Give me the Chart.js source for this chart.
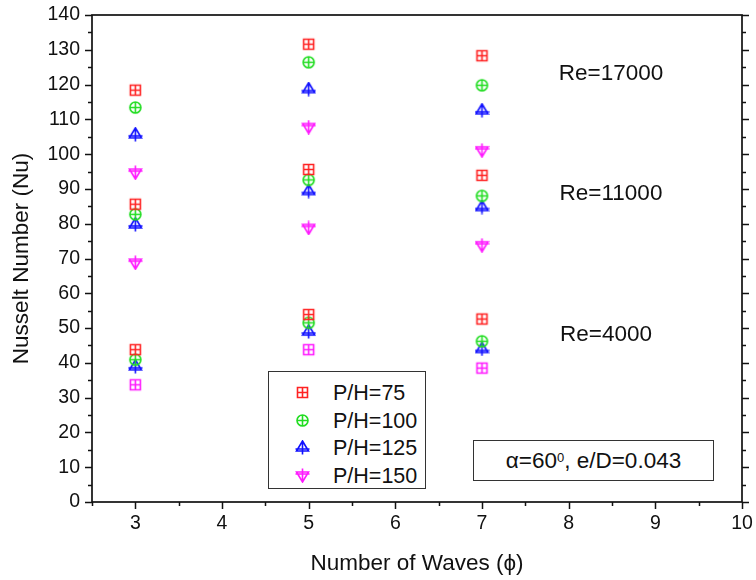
<!DOCTYPE html>
<html>
<head>
<meta charset="utf-8">
<script src="https://cdn.jsdelivr.net/npm/chart.js@4.4.1/dist/chart.umd.min.js"></script>
<style>
  html, body { margin: 0; padding: 0; background: #fff; }
  #wrap { position: relative; width: 756px; height: 580px; font-family: "Liberation Sans", Arial, sans-serif; color: #111; }
  #c { position: absolute; left: 0; top: 0; }
  .box { position: absolute; background: #fff; border: 1.5px solid #333; box-sizing: border-box; }
  .row { position: absolute; left: 0; height: 26px; line-height: 26px; font-size: 21.5px; }
  .row canvas { position: absolute; left: 26px; top: 5px; }
  .row span { position: absolute; left: 64px; white-space: nowrap; }
  .re { position: absolute; font-size: 22.5px; white-space: nowrap; transform: translate(-50%, -50%); }
  #note { font-size: 22.5px; display: flex; align-items: center; justify-content: center; }
  #note sup { font-size: 13px; vertical-align: top; position: relative; top: -3px; }
</style>
</head>
<body>
<div id="wrap">
  <canvas id="c" width="756" height="580"></canvas>
  <div class="re" style="left:611px; top:73px;">Re=17000</div>
  <div class="re" style="left:611px; top:193px;">Re=11000</div>
  <div class="re" style="left:606px; top:334px;">Re=4000</div>
  <div class="box" id="legend" style="left:268px; top:371px; width:158px; height:118px;"></div>
  <div class="box" id="note" style="left:473px; top:440px; width:241px; height:41px;">α=60<sup>0</sup>, e/D=0.043</div>
</div>
<script>
// ---- data ----
const waves = [3, 5, 7];
const xTickValues = [3, 4, 5, 6, 7, 8, 9, 10];
const yTickValues = [0, 10, 20, 30, 40, 50, 60, 70, 80, 90, 100, 110, 120, 130, 140];
const seriesLabels = ['P/H=75', 'P/H=100', 'P/H=125', 'P/H=150'];
const reGroups = ['Re=4000', 'Re=11000', 'Re=17000'];

// Nusselt numbers at waves 3, 5, 7
const ph75_re4000  = [43.8, 53.9, 52.6];
const ph75_re11000 = [85.6, 95.6, 93.9];
const ph75_re17000 = [118.4, 131.6, 128.3];

const ph100_re4000  = [40.9, 51.5, 46.2];
const ph100_re11000 = [82.7, 92.6, 88.0];
const ph100_re17000 = [113.4, 126.4, 119.8];

const ph125_re4000  = [39.0, 49.0, 44.0];
const ph125_re11000 = [79.8, 89.4, 84.8];
const ph125_re17000 = [105.7, 118.7, 112.6];

const ph150_re4000  = [33.7, 43.8, 38.5];
const ph150_re11000 = [68.8, 78.8, 73.8];
const ph150_re17000 = [94.7, 107.8, 101.1];

const seriesData = [
  [ph75_re4000, ph75_re11000, ph75_re17000],
  [ph100_re4000, ph100_re11000, ph100_re17000],
  [ph125_re4000, ph125_re11000, ph125_re17000],
  [ph150_re4000, ph150_re11000, ph150_re17000]
];

// ---- styles ----
const colors = ['#ff2222', '#22dd22', '#1010ff', '#ff1aff'];
const shapes = ['square', 'circle', 'triUp', 'triDown'];

function makeMarker(shape, color) {
  const S = 15, c = S / 2;
  const cv = document.createElement('canvas');
  cv.width = S; cv.height = S;
  const g = cv.getContext('2d');
  g.strokeStyle = color; g.lineWidth = 1.6;
  g.beginPath();
  if (shape === 'square') {
    g.rect(2.5, 2.5, 10, 10);
    g.moveTo(c, 2.5); g.lineTo(c, 12.5);
    g.moveTo(2.5, c); g.lineTo(12.5, c);
  } else if (shape === 'circle') {
    g.arc(c, c, 5.5, 0, Math.PI * 2);
    g.moveTo(c, 2); g.lineTo(c, 13);
    g.moveTo(2, c); g.lineTo(13, c);
  } else if (shape === 'triUp') {
    g.moveTo(c, 1); g.lineTo(13.5, 11); g.lineTo(1.5, 11); g.closePath();
    g.moveTo(c, 1); g.lineTo(c, 14.5);
    g.moveTo(0.5, 9); g.lineTo(14.5, 9);
  } else {
    g.moveTo(c, 14); g.lineTo(13.5, 4); g.lineTo(1.5, 4); g.closePath();
    g.moveTo(c, 0.5); g.lineTo(c, 14);
    g.moveTo(0.5, 6); g.lineTo(14.5, 6);
  }
  g.stroke();
  return cv;
}

const markers = shapes.map((s, i) => makeMarker(s, colors[i]));
const lowReSquare150 = makeMarker('square', colors[3]);

const datasets = seriesLabels.map((label, si) => {
  const pts = [];
  seriesData[si].forEach((arr, gi) => {
    waves.forEach((w, wi) => pts.push({ x: w, y: arr[wi], re: reGroups[gi] }));
  });
  return {
    label,
    data: pts,
    showLine: false,
    pointRadius: 6,
    pointStyle: (ctx) => {
      const raw = ctx.raw;
      if (si === 3 && raw && raw.re === 'Re=4000') return lowReSquare150;
      return markers[si];
    }
  };
});

// ---- HTML legend ----
const legendEl = document.getElementById('legend');
seriesLabels.forEach((label, i) => {
  const row = document.createElement('div');
  row.className = 'row';
  row.style.top = (8 + i * 27.5) + 'px';
  row.style.width = '100%';
  const m = makeMarker(shapes[i], colors[i]);
  row.appendChild(m);
  const sp = document.createElement('span');
  sp.textContent = label;
  row.appendChild(sp);
  legendEl.appendChild(row);
});

// ---- frame and ticks plugin ----
const framePlugin = {
  id: 'frame',
  afterDraw(chart) {
    const { ctx, chartArea: { left, right, top, bottom }, scales: { x, y } } = chart;
    ctx.save();
    ctx.strokeStyle = '#111';
    ctx.lineWidth = 1.7;
    ctx.strokeRect(left, top, right - left, bottom - top);
    ctx.lineWidth = 1.5;
    ctx.beginPath();
    for (let v = x.min; v <= x.max + 1e-9; v += 0.5) {
      const px = Math.round(x.getPixelForValue(v)) + 0.5;
      const len = Math.abs(v - Math.round(v)) < 1e-9 ? 7 : 4;
      ctx.moveTo(px, bottom); ctx.lineTo(px, bottom + len);
    }
    for (let v = y.min; v <= y.max + 1e-9; v += 5) {
      const py = Math.round(y.getPixelForValue(v)) + 0.5;
      const len = v % 10 === 0 ? 7 : 4;
      ctx.moveTo(left, py); ctx.lineTo(left - len, py);
      ctx.moveTo(right, py); ctx.lineTo(right + len, py);
    }
    ctx.stroke();
    ctx.restore();
  }
};

const FONT = '"Liberation Sans", Arial, sans-serif';

new Chart(document.getElementById('c'), {
  type: 'scatter',
  data: { datasets },
  options: {
    responsive: false,
    devicePixelRatio: 1,
    animation: false,
    layout: { padding: { left: 0, right: 14, top: 15, bottom: 0 } },
    plugins: { legend: { display: false }, tooltip: { enabled: false } },
    scales: {
      x: {
        type: 'linear', min: 2.5, max: 10,
        grid: { display: false, drawTicks: false },
        border: { display: false },
        afterBuildTicks: (s) => { s.ticks = xTickValues.map(v => ({ value: v })); },
        afterFit: (s) => { s.height = 78; s.paddingLeft = 0; s.paddingRight = 0; },
        ticks: { font: { family: FONT, size: 19.5 }, color: '#111', padding: 10, maxRotation: 0 },
        title: { display: true, text: 'Number of Waves (ϕ)', font: { family: FONT, size: 22.5 }, color: '#111', padding: { top: 0, bottom: 3 } }
      },
      y: {
        type: 'linear', min: 0, max: 140,
        grid: { display: false, drawTicks: false },
        border: { display: false },
        afterBuildTicks: (s) => { s.ticks = yTickValues.map(v => ({ value: v })); },
        afterFit: (s) => { s.width = 92; s.paddingTop = 0; s.paddingBottom = 0; },
        ticks: { font: { family: FONT, size: 19.5 }, color: '#111', padding: 12 },
        title: { display: true, text: 'Nusselt Number (Nu)', font: { family: FONT, size: 22.5 }, color: '#111', padding: { top: 8, bottom: 0 } }
      }
    }
  },
  plugins: [framePlugin]
});
</script>
</body>
</html>
